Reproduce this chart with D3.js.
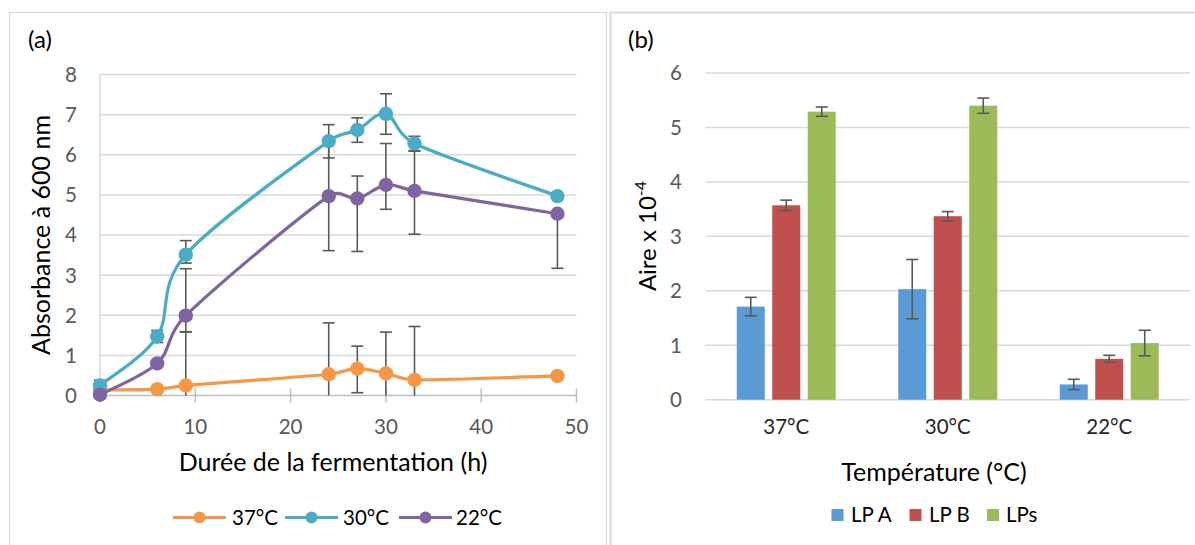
<!DOCTYPE html>
<html><head><meta charset="utf-8">
<script src="https://cdn.jsdelivr.net/npm/d3@7"></script>
<style>body{margin:0;background:#fff;} svg{display:block;font-family:Lato,'Open Sans',sans-serif;}</style>
</head><body><svg id="c" width="1195" height="545"></svg>
<script>
// ---------- Data: panel (a) ----------
const hours = [0, 6, 9, 24, 27, 30, 33, 48];
const seriesA = ["37°C", "30°C", "22°C"];
const abs37 = [0.14, 0.16, 0.25, 0.53, 0.67, 0.55, 0.39, 0.49];
const abs30 = [0.25, 1.47, 3.51, 6.34, 6.62, 7.02, 6.28, 4.97];
const abs22 = [0.02, 0.80, 1.99, 4.97, 4.91, 5.25, 5.10, 4.53];
const errPlus37  = [0, 0, 1.33, 1.28, 0.56, 1.03, 1.33, 0];
const errMinus37 = [0, 0, 1.33, 1.28, 0.60, 1.03, 1.33, 0];
const errPlus30  = [0.13, 0.15, 0.35, 0.41, 0.30, 0.50, 0.18, 0];
const errMinus30 = [0.13, 0.15, 0.21, 0.42, 0.31, 0.51, 0.19, 0];
const errPlus22  = [0, 0, 1.17, 1.36, 0.56, 1.03, 1.00, 0];
const errMinus22 = [0, 0, 0.40, 1.36, 1.32, 0.61, 1.08, 1.36];
const xTicksA = [0, 10, 20, 30, 40, 50];
const yTicksA = [0, 1, 2, 3, 4, 5, 6, 7, 8];

// ---------- Data: panel (b) ----------
const categoriesB = ["37°C", "30°C", "22°C"];
const seriesB = ["LP A", "LP B", "LPs"];
const lpA = [1.71, 2.03, 0.28];
const lpB = [3.57, 3.37, 0.75];
const lpS = [5.29, 5.40, 1.04];
const errLpA = [0.17, 0.545, 0.095];
const errLpB = [0.095, 0.085, 0.065];
const errLpS = [0.085, 0.14, 0.235];
const yTicksB = [0, 1, 2, 3, 4, 5, 6];

// ---------- Styles ----------
const colorsA = ["#F79646", "#4BACC6", "#8064A2"];
const colorsB = ["#5B9BD5", "#C0504D", "#9BBB59"];
const grid = "#D9D9D9", errCol = "#595959", tickCol = "#595959";

const svg = d3.select("#c");

// frames
svg.append("rect").attr("x", 9.5).attr("y", 12.5).attr("width", 597).attr("height", 600)
  .attr("fill", "none").attr("stroke", grid).attr("stroke-width", 1);
svg.append("rect").attr("x", 610.5).attr("y", 12.5).attr("width", 600).attr("height", 600)
  .attr("fill", "none").attr("stroke", grid).attr("stroke-width", 2);

// Excel-like smoothed line (Bezier, handles capped at half the segment)
function excelSmooth(pts) {
  const p = d3.path();
  const dist = (a, b) => Math.hypot(b[0] - a[0], b[1] - a[1]);
  p.moveTo(pts[0][0], pts[0][1]);
  for (let i = 0; i < pts.length - 1; i++) {
    const p0 = pts[Math.max(0, i - 1)], p1 = pts[i], p2 = pts[i + 1], p3 = pts[Math.min(pts.length - 1, i + 2)];
    const d02 = dist(p0, p2), d13 = dist(p1, p3), d12 = dist(p1, p2);
    const f = 1 / 6;
    const f0 = (d02 / 6 < d12 / 2) ? f : (d02 > 0 ? d12 / 2 / d02 : 0);
    const f1 = (d13 / 6 < d12 / 2) ? f : (d13 > 0 ? d12 / 2 / d13 : 0);
    const b1 = [p1[0] + (p2[0] - p0[0]) * f0, p1[1] + (p2[1] - p0[1]) * f0];
    const b2 = [p2[0] - (p3[0] - p1[0]) * f1, p2[1] - (p3[1] - p1[1]) * f1];
    p.bezierCurveTo(b1[0], b1[1], b2[0], b2[1], p2[0], p2[1]);
  }
  return p.toString();
}

// ================= Panel (a) =================
const gA = svg.append("g");
const xA = d3.scaleLinear().domain([0, 50]).range([100, 576.5]);
const yA = d3.scaleLinear().domain([0, 8]).range([395.5, 74.5]);

gA.selectAll(".gy").data(yTicksA.filter(d => d > 0)).join("line")
  .attr("x1", xA(0)).attr("x2", xA(50)).attr("y1", d => yA(d)).attr("y2", d => yA(d))
  .attr("stroke", grid).attr("stroke-width", 1.5);
gA.append("line").attr("x1", xA(0)).attr("x2", xA(0)).attr("y1", yA(8)).attr("y2", yA(0))
  .attr("stroke", grid).attr("stroke-width", 1.5);
gA.append("line").attr("x1", xA(0)).attr("x2", xA(50)).attr("y1", yA(0)).attr("y2", yA(0))
  .attr("stroke", "#BFBFBF").attr("stroke-width", 1.5);
gA.selectAll(".tx").data(xTicksA).join("line")
  .attr("x1", d => xA(d)).attr("x2", d => xA(d)).attr("y1", yA(0) - 7).attr("y2", yA(0) + 7)
  .attr("stroke", "#BFBFBF").attr("stroke-width", 1.5);

gA.selectAll(".lx").data(xTicksA).join("text")
  .attr("x", d => xA(d)).attr("y", 434).attr("text-anchor", "middle")
  .attr("font-size", 20.5).attr("fill", tickCol).text(d => d);
gA.selectAll(".ly").data(yTicksA).join("text")
  .attr("x", 77).attr("y", d => yA(d)).attr("dy", "0.36em").attr("text-anchor", "end")
  .attr("font-size", 20.5).attr("fill", tickCol).text(d => d);

gA.append("text").attr("x", 333).attr("y", 471).attr("text-anchor", "middle")
  .attr("font-size", 25).attr("fill", "#000").text("Durée de la fermentation (h)");
gA.append("text").attr("transform", "translate(50,235) rotate(-90)").attr("text-anchor", "middle")
  .attr("font-size", 25).attr("fill", "#000").text("Absorbance à 600 nm");
gA.append("text").attr("x", 28).attr("y", 48).attr("font-size", 24).attr("fill", "#000").text("(a)");

const dataA = [
  {name: seriesA[0], vals: abs37, ep: errPlus37, em: errMinus37},
  {name: seriesA[1], vals: abs30, ep: errPlus30, em: errMinus30},
  {name: seriesA[2], vals: abs22, ep: errPlus22, em: errMinus22}
];

// error bars
dataA.forEach(s => {
  hours.forEach((h, i) => {
    const v = s.vals[i];
    const hi = v + s.ep[i], lo = Math.max(0, v - s.em[i]);
    const cx = xA(h);
    gA.append("line").attr("x1", cx).attr("x2", cx).attr("y1", yA(hi)).attr("y2", yA(lo))
      .attr("stroke", errCol).attr("stroke-width", 1.6);
    if (s.ep[i] > 0) gA.append("line").attr("x1", cx - 6).attr("x2", cx + 6).attr("y1", yA(hi)).attr("y2", yA(hi))
      .attr("stroke", errCol).attr("stroke-width", 1.6);
    if (s.em[i] > 0 && v - s.em[i] > 0) gA.append("line").attr("x1", cx - 6).attr("x2", cx + 6).attr("y1", yA(lo)).attr("y2", yA(lo))
      .attr("stroke", errCol).attr("stroke-width", 1.6);
  });
});

dataA.forEach((s, k) => {
  const pts = hours.map((h, i) => [h, s.vals[i]]);
  gA.append("path").attr("d", excelSmooth(pts.map(d => [xA(d[0]), yA(d[1])]))).attr("fill", "none")
    .attr("stroke", colorsA[k]).attr("stroke-width", 3.2).attr("stroke-linejoin", "round");
  gA.selectAll(null).data(pts).join("circle")
    .attr("cx", d => xA(d[0])).attr("cy", d => yA(d[1])).attr("r", 7.2).attr("fill", colorsA[k]);
});

// legend (a)
const legA = [{x: 173, t: 232}, {x: 285, t: 343}, {x: 399, t: 456}];
seriesA.forEach((n, k) => {
  const L = legA[k], ly = 517.5;
  gA.append("line").attr("x1", L.x).attr("x2", L.x + 53).attr("y1", ly).attr("y2", ly)
    .attr("stroke", colorsA[k]).attr("stroke-width", 3.2);
  gA.append("circle").attr("cx", L.x + 26.5).attr("cy", ly).attr("r", 6).attr("fill", colorsA[k]);
  gA.append("text").attr("x", L.t).attr("y", ly).attr("dy", "0.36em").attr("font-size", 20.5)
    .attr("fill", "#000").text(n);
});

// ================= Panel (b) =================
const gB = svg.append("g");
const xB = d3.scaleBand().domain(categoriesB).range([705.5, 1190]).paddingInner(0.387).paddingOuter(0.1935);
const xInner = d3.scaleBand().domain(seriesB).range([0, xB.bandwidth()]).paddingInner(0.211);
const yB = d3.scaleLinear().domain([0, 6]).range([399.7, 73]);

gB.selectAll(".gy").data(yTicksB).join("line")
  .attr("x1", 705.5).attr("x2", 1190).attr("y1", d => yB(d)).attr("y2", d => yB(d))
  .attr("stroke", grid).attr("stroke-width", 1.5);
gB.selectAll(".ly").data(yTicksB).join("text")
  .attr("x", 682).attr("y", d => yB(d)).attr("dy", "0.36em").attr("text-anchor", "end")
  .attr("font-size", 20.5).attr("fill", tickCol).text(d => d);
gB.selectAll(".lx").data(categoriesB).join("text")
  .attr("x", d => xB(d) + xB.bandwidth() / 2).attr("y", 434).attr("text-anchor", "middle")
  .attr("font-size", 20.5).attr("fill", "#262626").text(d => d);

const valsB = [lpA, lpB, lpS];
const errsB = [errLpA, errLpB, errLpS];
seriesB.forEach((s, k) => {
  categoriesB.forEach((c, i) => {
    const bx = xB(c) + xInner(s), v = valsB[k][i];
    gB.append("rect").attr("x", bx).attr("y", yB(v)).attr("width", xInner.bandwidth())
      .attr("height", yB(0) - yB(v)).attr("fill", colorsB[k]);
  });
});
seriesB.forEach((s, k) => {
  categoriesB.forEach((c, i) => {
    const cx = xB(c) + xInner(s) + xInner.bandwidth() / 2, v = valsB[k][i], e = errsB[k][i];
    gB.append("line").attr("x1", cx).attr("x2", cx).attr("y1", yB(v + e)).attr("y2", yB(v - e))
      .attr("stroke", errCol).attr("stroke-width", 1.6);
    [v + e, v - e].forEach(t => gB.append("line").attr("x1", cx - 6).attr("x2", cx + 6)
      .attr("y1", yB(t)).attr("y2", yB(t)).attr("stroke", errCol).attr("stroke-width", 1.6));
  });
});

gB.append("text").attr("x", 934).attr("y", 481).attr("text-anchor", "middle")
  .attr("font-size", 25).attr("fill", "#000").text("Température (°C)");
const yt = gB.append("text").attr("transform", "translate(656,236) rotate(-90)").attr("text-anchor", "middle")
  .attr("font-size", 24).attr("fill", "#000");
yt.append("tspan").text("Aire x 10");
yt.append("tspan").attr("dy", -10).attr("font-size", 16).text("-4");
gB.append("text").attr("x", 628).attr("y", 48).attr("font-size", 24).attr("fill", "#000").text("(b)");

const legB = [{x: 831.5, t: 851}, {x: 909.5, t: 929}, {x: 987, t: 1006}];
seriesB.forEach((n, k) => {
  const L = legB[k], ly = 515;
  gB.append("rect").attr("x", L.x).attr("y", ly - 6).attr("width", 12).attr("height", 12).attr("fill", colorsB[k]);
  gB.append("text").attr("x", L.t).attr("y", ly).attr("dy", "0.36em").attr("font-size", 20.5)
    .attr("fill", "#000").text(n);
});
</script></body></html>
